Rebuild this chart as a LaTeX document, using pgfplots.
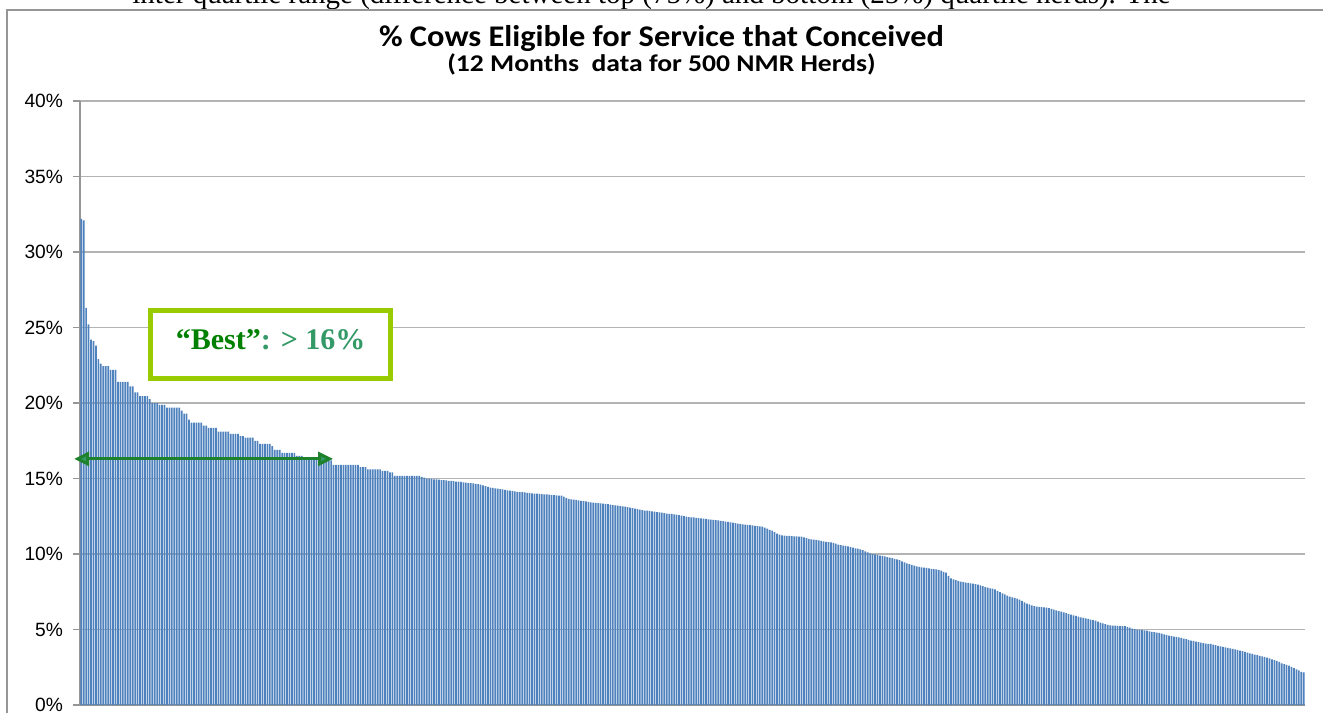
\documentclass[border=0pt]{standalone}
\usepackage{pgfplots}
\pgfplotsset{compat=1.18}
\usepackage{pgfplotstable}
\usepackage{fontspec}
\setmainfont{Liberation Sans}
\newfontfamily\carlitoT[FakeStretch=1.08]{Carlito}
\newfontfamily\carlitoS[FakeStretch=1.15]{Carlito}
\newfontfamily\tnr{Liberation Serif}
\usetikzlibrary{arrows.meta}
\definecolor{barblue}{RGB}{79,129,189}
\definecolor{gridgray}{RGB}{179,179,179}
\definecolor{axisgray}{RGB}{150,150,150}
\definecolor{boxgreen}{RGB}{153,204,0}
\definecolor{darkgreen}{RGB}{0,128,0}
\definecolor{seagreen}{RGB}{51,153,102}
\definecolor{arrowline}{RGB}{30,130,45}

\pgfplotstableread[row sep=\\]{
v\\
32.2\\32.1\\26.3\\25.2\\24.2\\24.1\\23.8\\22.9\\22.6\\22.45\\
22.45\\22.45\\22.2\\22.2\\22.2\\21.4\\21.4\\21.4\\21.4\\21.4\\
21.1\\21.1\\20.7\\20.7\\20.45\\20.45\\20.45\\20.45\\20.25\\20.0\\
20.0\\20.0\\19.87\\19.87\\19.87\\19.7\\19.7\\19.7\\19.7\\19.7\\
19.7\\19.5\\19.3\\19.3\\18.9\\18.7\\18.7\\18.7\\18.7\\18.7\\
18.5\\18.5\\18.35\\18.35\\18.35\\18.35\\18.1\\18.1\\18.1\\18.1\\
18.1\\17.95\\17.95\\17.95\\17.95\\17.8\\17.8\\17.7\\17.7\\17.7\\
17.7\\17.5\\17.5\\17.3\\17.3\\17.3\\17.3\\17.3\\17.15\\16.9\\
16.9\\16.9\\16.7\\16.7\\16.7\\16.7\\16.7\\16.7\\16.5\\16.5\\
16.5\\16.4\\16.4\\16.4\\16.4\\16.4\\16.4\\16.4\\16.2\\16.2\\
16.2\\16.2\\16.2\\15.9\\15.9\\15.9\\15.9\\15.9\\15.9\\15.9\\
15.9\\15.9\\15.9\\15.9\\15.75\\15.75\\15.75\\15.6\\15.6\\15.6\\
15.6\\15.6\\15.6\\15.5\\15.5\\15.5\\15.4\\15.4\\15.17\\15.17\\
15.17\\15.17\\15.17\\15.17\\15.17\\15.17\\15.17\\15.17\\15.17\\15.1\\
15.05\\15.0\\15.0\\14.97\\14.95\\14.95\\14.92\\14.9\\14.9\\14.88\\
14.85\\14.85\\14.82\\14.8\\14.8\\14.77\\14.75\\14.72\\14.7\\14.7\\
14.67\\14.65\\14.62\\14.6\\14.55\\14.5\\14.45\\14.4\\14.38\\14.35\\
14.33\\14.3\\14.28\\14.25\\14.22\\14.2\\14.18\\14.15\\14.12\\14.1\\
14.1\\14.08\\14.05\\14.05\\14.02\\14.0\\14.0\\13.98\\13.97\\13.95\\
13.95\\13.93\\13.9\\13.9\\13.88\\13.87\\13.86\\13.8\\13.72\\13.65\\
13.62\\13.6\\13.58\\13.55\\13.52\\13.5\\13.48\\13.45\\13.42\\13.4\\
13.38\\13.37\\13.36\\13.34\\13.32\\13.3\\13.27\\13.24\\13.22\\13.2\\
13.17\\13.15\\13.13\\13.1\\13.07\\13.04\\13.0\\12.97\\12.94\\12.9\\
12.88\\12.87\\12.85\\12.82\\12.8\\12.78\\12.76\\12.74\\12.71\\12.68\\
12.66\\12.65\\12.62\\12.6\\12.57\\12.54\\12.51\\12.48\\12.45\\12.43\\
12.42\\12.4\\12.38\\12.36\\12.34\\12.32\\12.3\\12.28\\12.26\\12.25\\
12.22\\12.19\\12.17\\12.14\\12.12\\12.1\\12.07\\12.04\\12.02\\11.99\\
11.97\\11.95\\11.93\\11.91\\11.89\\11.87\\11.85\\11.83\\11.81\\11.75\\
11.68\\11.6\\11.54\\11.45\\11.35\\11.28\\11.24\\11.22\\11.2\\11.2\\
11.18\\11.17\\11.16\\11.15\\11.15\\11.1\\11.05\\11.0\\10.97\\10.95\\
10.93\\10.9\\10.87\\10.84\\10.8\\10.79\\10.77\\10.73\\10.68\\10.62\\
10.58\\10.55\\10.53\\10.5\\10.46\\10.42\\10.38\\10.35\\10.31\\10.25\\
10.18\\10.1\\10.04\\10.0\\9.97\\9.94\\9.9\\9.87\\9.84\\9.8\\
9.76\\9.72\\9.68\\9.65\\9.6\\9.52\\9.45\\9.38\\9.33\\9.28\\
9.23\\9.18\\9.15\\9.12\\9.1\\9.08\\9.05\\9.02\\9.0\\8.98\\
8.95\\8.9\\8.82\\8.76\\8.55\\8.39\\8.32\\8.27\\8.22\\8.17\\
8.14\\8.11\\8.08\\8.05\\8.03\\8.01\\7.98\\7.93\\7.87\\7.8\\
7.77\\7.73\\7.7\\7.65\\7.55\\7.48\\7.4\\7.32\\7.25\\7.17\\
7.12\\7.09\\7.05\\6.98\\6.9\\6.8\\6.72\\6.66\\6.6\\6.55\\
6.52\\6.5\\6.48\\6.47\\6.45\\6.42\\6.37\\6.32\\6.27\\6.22\\
6.18\\6.13\\6.08\\6.03\\5.98\\5.94\\5.9\\5.85\\5.8\\5.77\\
5.74\\5.7\\5.65\\5.62\\5.58\\5.52\\5.46\\5.4\\5.35\\5.3\\
5.28\\5.26\\5.25\\5.24\\5.23\\5.23\\5.23\\5.18\\5.12\\5.06\\
5.02\\4.99\\4.97\\4.97\\4.95\\4.92\\4.88\\4.85\\4.82\\4.79\\
4.77\\4.73\\4.68\\4.64\\4.6\\4.56\\4.53\\4.52\\4.48\\4.44\\
4.4\\4.36\\4.31\\4.26\\4.24\\4.2\\4.17\\4.13\\4.1\\4.07\\
4.05\\4.04\\4.0\\3.96\\3.92\\3.88\\3.85\\3.82\\3.78\\3.75\\
3.72\\3.68\\3.64\\3.6\\3.56\\3.52\\3.47\\3.42\\3.38\\3.34\\
3.3\\3.26\\3.22\\3.18\\3.13\\3.08\\3.02\\2.97\\2.92\\2.85\\
2.75\\2.7\\2.65\\2.6\\2.52\\2.45\\2.36\\2.3\\2.2\\2.16\\
}\herds

\begin{document}
\begin{tikzpicture}
\path[use as bounding box] (0pt,0pt) rectangle (661.5pt,356.5pt);
% fragment of surrounding text, cut by the page edge
\begin{scope}
\clip (0pt,351.8pt) rectangle (661.5pt,356.5pt);
\node[anchor=base west, inner sep=0pt, font=\tnr\fontsize{14.5}{17}\selectfont] at (66pt,354.6pt)
 {inter quartile range (difference between top (75\%) and bottom (25\%) quartile herds). The};
\end{scope}
% chart area border
\draw[axisgray, line width=0.7pt] (3.5pt,0pt) -- (3.5pt,351.5pt) -- (661.5pt,351.5pt);
% titles
\node[anchor=base, inner sep=0pt, font=\carlitoT\bfseries\fontsize{15}{18}\selectfont] at (330.75pt,333pt)
 {\% Cows Eligible for Service that Conceived};
\node[anchor=base, inner sep=0pt, font=\carlitoS\bfseries\fontsize{12}{14}\selectfont] at (330.75pt,320.5pt)
 {(12 Months\ \ data for 500 NMR Herds)};
\begin{axis}[
  at={(40pt,4pt)}, anchor=south west,
  scale only axis, width=612.5pt, height=302pt,
  xmin=-0.5, xmax=499.5, ymin=0, ymax=40,
  ytick={0,5,...,40},
  yticklabel={\pgfmathprintnumber{\tick}\%},
  /pgf/number format/assume math mode=true,
  yticklabel style={font=\fontsize{9.6}{10}\selectfont, text=black, xshift=-1.5pt},
  xtick=\empty,
  axis x line*=bottom, axis y line*=left,
  axis line style={draw=axisgray, line width=0.8pt},
  ymajorgrids, grid style={draw=gridgray, line width=0.8pt},
  tick align=outside, major tick length=3.5pt,
  tick style={draw=axisgray, line width=0.8pt},
  clip=false,
]
\addplot[ybar, bar width=0.7, bar shift=0pt, fill=barblue, draw=none]
  table[x expr=\coordindex, y=v] {\herds};
% "Best" box
\draw[boxgreen, line width=2.5pt, fill=white] (axis cs:28.3,21.6) rectangle (axis cs:126.3,26.15);
\node[font=\tnr\bfseries\fontsize{15}{18}\selectfont] at (axis cs:77.3,24.2)
  {\textcolor{darkgreen}{“Best”}\textcolor{seagreen}{: > 16\%}};
% double arrow
\draw[arrowline, line width=1.5pt,
  {Triangle[length=7.5pt,width=7pt,fill=seagreen]}-{Triangle[length=7.5pt,width=7pt,fill=seagreen]}]
  (axis cs:-2.9,16.3) -- (axis cs:102.8,16.3);
\end{axis}
\end{tikzpicture}
\end{document}
